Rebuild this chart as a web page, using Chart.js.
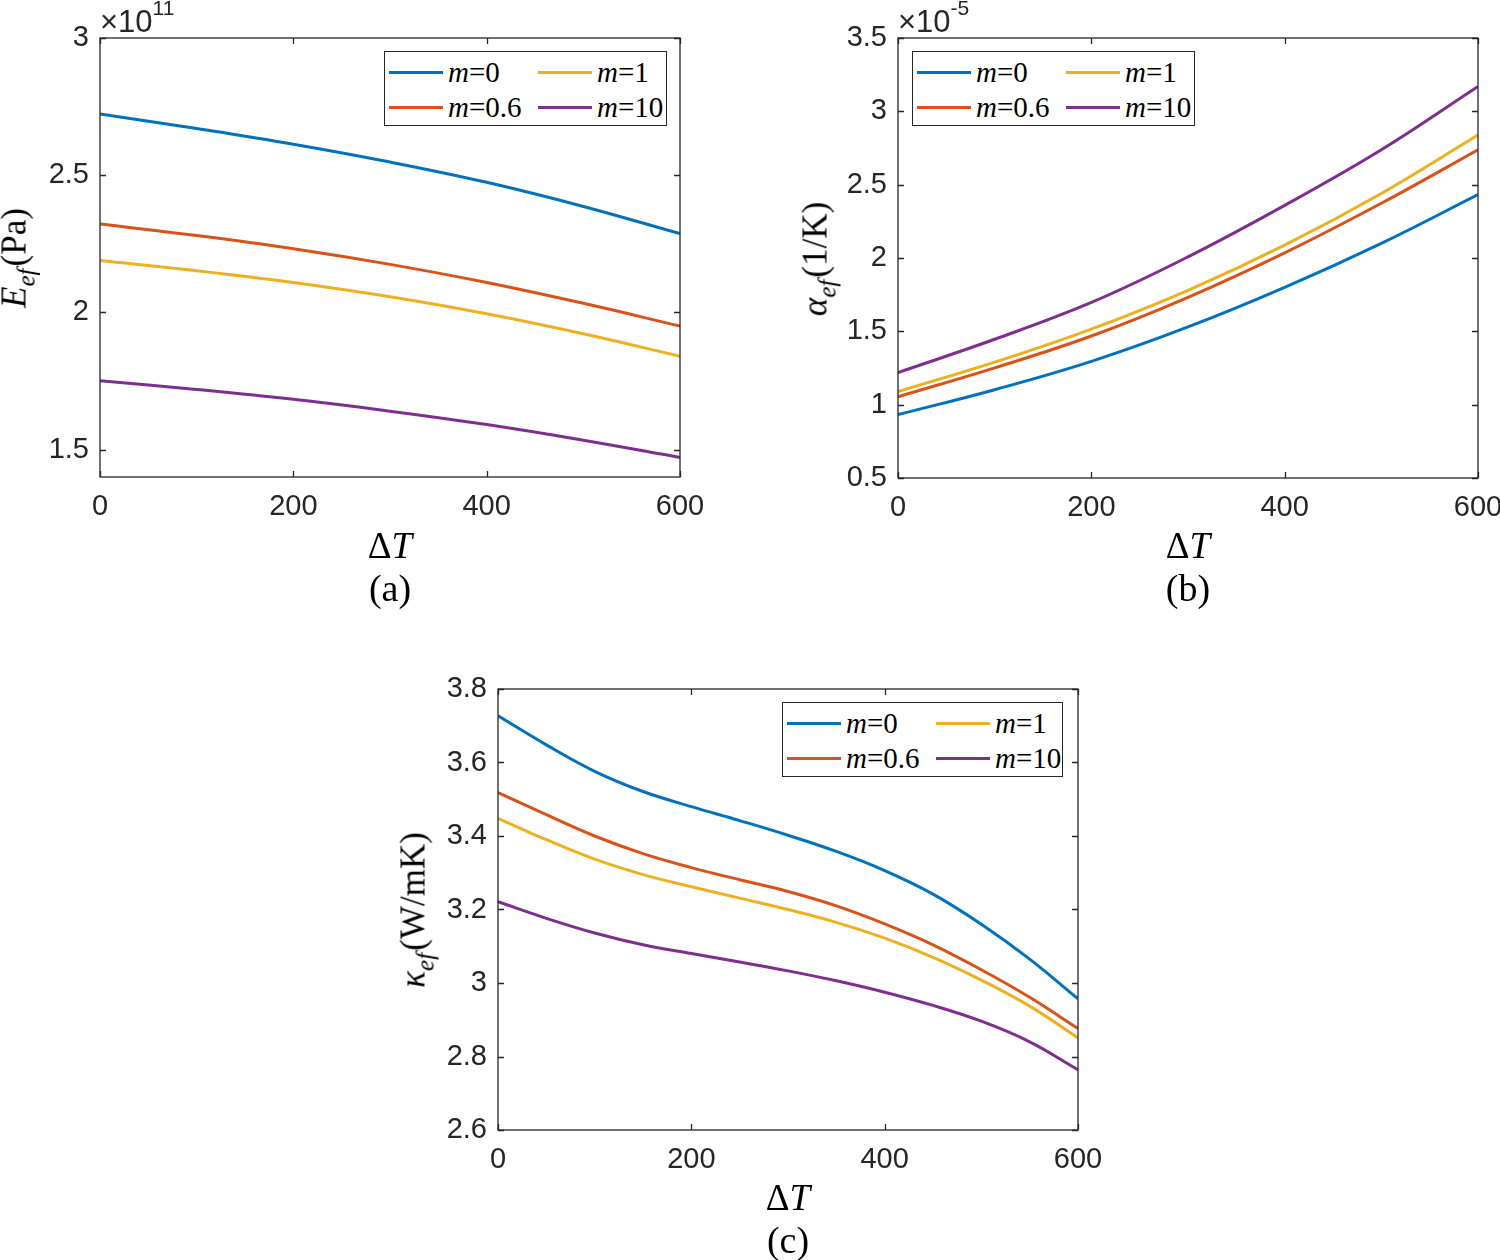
<!DOCTYPE html>
<html>
<head>
<meta charset="utf-8">
<script src="https://cdn.jsdelivr.net/npm/chart.js@4.4.1/dist/chart.umd.min.js"></script>
<style>
  body { margin: 0; background: #fff; }
  #fig { position: relative; width: 1500px; height: 1260px; overflow: hidden; font-family: "Liberation Serif", serif; color: #000; }
  canvas { position: absolute; }
  .lbl { position: absolute; white-space: nowrap; font-size: 37px; line-height: 1; transform: translate(-50%, -50%); }
  .cap { font-size: 38px; }
  .ylbl { font-size: 35px; transform: translate(-50%, -50%) rotate(-90deg); }
  .sub { font-size: 0.72em; position: relative; top: 0.34em; font-style: italic; margin-right: 2px; }
  .expo { position: absolute; font-family: "Liberation Sans", sans-serif; font-size: 31px; line-height: 1; color: #262626; white-space: nowrap; }
  .expo span { font-size: 21px; position: relative; top: -17px; }
  .legend { position: absolute; border: 1.5px solid #262626; background: #fff; box-sizing: border-box; }
  .legend .it { position: absolute; height: 34px; display: flex; align-items: center; font-size: 29px; white-space: nowrap; }
  .legend .sw { display: inline-block; width: 54px; height: 3px; margin-right: 5px; }
</style>
</head>
<body>
<div id="fig">
  <canvas id="chartA" width="740" height="530" style="left:0;top:0"></canvas>
  <canvas id="chartB" width="710" height="531" style="left:790px;top:0"></canvas>
  <canvas id="chartC" width="740" height="533" style="left:390px;top:650px"></canvas>
</div>
<script>
// temperature rise values on the x axis
const dTCoarse = [0, 100, 200, 300, 400, 500, 600];
const dTFine = [0, 50, 100, 150, 200, 250, 300, 350, 400, 450, 500, 550, 600];
const xTicks = [0, 200, 400, 600];

const mValues = ["0", "0.6", "1", "10"];
const colors = ["#0072BD", "#D95319", "#EDB120", "#7E2F8E"];

// (a) E_ef in units of 1e11 Pa
const E_m0 = [2.723, 2.670, 2.613, 2.548, 2.474, 2.386, 2.287];
const E_m06 = [2.322, 2.280, 2.232, 2.175, 2.109, 2.033, 1.950];
const E_m1 = [2.189, 2.152, 2.109, 2.057, 1.995, 1.922, 1.840];
const E_m10 = [1.751, 1.719, 1.683, 1.640, 1.591, 1.534, 1.471];
const yTicksA = [1.5, 2, 2.5, 3];

// (b) alpha_ef in units of 1e-5 1/K
const a_m0 = [0.932, 1.102, 1.295, 1.530, 1.800, 2.100, 2.432];
const a_m06 = [1.054, 1.251, 1.468, 1.732, 2.035, 2.373, 2.738];
const a_m1 = [1.089, 1.290, 1.515, 1.780, 2.088, 2.440, 2.838];
const a_m10 = [1.219, 1.446, 1.697, 2.008, 2.359, 2.738, 3.170];
const yTicksB = [0.5, 1, 1.5, 2, 2.5, 3, 3.5];

// (c) kappa_ef in W/mK
const k_m0 = [3.727, 3.648, 3.576, 3.521, 3.480, 3.442, 3.402, 3.358, 3.306, 3.242, 3.160, 3.065, 2.957];
const k_m06 = [3.518, 3.458, 3.400, 3.352, 3.314, 3.281, 3.249, 3.210, 3.161, 3.104, 3.036, 2.961, 2.876];
const k_m1 = [3.448, 3.390, 3.337, 3.295, 3.262, 3.231, 3.200, 3.165, 3.122, 3.070, 3.008, 2.937, 2.851];
const k_m10 = [3.221, 3.176, 3.136, 3.104, 3.080, 3.057, 3.033, 3.006, 2.975, 2.939, 2.896, 2.840, 2.764];
const yTicksC = [2.6, 2.8, 3, 3.2, 3.4, 3.6, 3.8];

Chart.defaults.font.family = "Liberation Sans";

// matlab style box with inward ticks on all four sides
const boxTicks = {
  id: "boxTicks",
  afterDatasetsDraw(chart) {
    const { ctx, chartArea: a, scales: { x, y } } = chart;
    ctx.save();
    ctx.strokeStyle = "#262626";
    ctx.lineWidth = 1.3;
    ctx.beginPath();
    x.ticks.forEach(t => {
      const px = Math.round(x.getPixelForValue(t.value)) + 0.5;
      ctx.moveTo(px, a.bottom); ctx.lineTo(px, a.bottom - 6);
      ctx.moveTo(px, a.top); ctx.lineTo(px, a.top + 6);
    });
    y.ticks.forEach(t => {
      const py = Math.round(y.getPixelForValue(t.value)) + 0.5;
      ctx.moveTo(a.left, py); ctx.lineTo(a.left + 6, py);
      ctx.moveTo(a.right, py); ctx.lineTo(a.right - 6, py);
    });
    ctx.stroke();
    ctx.strokeRect(a.left, a.top, a.right - a.left, a.bottom - a.top);
    ctx.restore();
  }
};

function makeChart(id, xs, series, yMin, yMax, yTicks, pad, yWidth) {
  new Chart(document.getElementById(id), {
    type: "line",
    data: {
      datasets: series.map((arr, i) => ({
        label: "m=" + mValues[i],
        data: arr.map((v, j) => ({ x: xs[j], y: v })),
        borderColor: colors[i],
        borderWidth: 3,
        pointRadius: 0,
        tension: 0.4,
        fill: false
      }))
    },
    options: {
      responsive: false,
      animation: false,
      layout: { padding: { top: pad.top, right: pad.right, left: 0, bottom: 0 } },
      plugins: { legend: { display: false }, tooltip: { enabled: false } },
      scales: {
        x: {
          type: "linear", min: 0, max: 600,
          afterBuildTicks: s => { s.ticks = xTicks.map(v => ({ value: v })); },
          afterFit: s => { s.height = 53; s.paddingLeft = 0; s.paddingRight = 0; },
          grid: { display: false },
          border: { display: false },
          ticks: { font: { size: 29 }, color: "#262626", padding: 5, maxRotation: 0, autoSkip: false }
        },
        y: {
          min: yMin, max: yMax,
          afterBuildTicks: s => { s.ticks = yTicks.map(v => ({ value: v })); },
          afterFit: s => { s.width = yWidth; s.paddingTop = 0; s.paddingBottom = 0; },
          grid: { display: false },
          border: { display: false },
          ticks: { font: { size: 29 }, color: "#262626", padding: 3, callback: v => String(+v.toFixed(2)) }
        }
      }
    },
    plugins: [boxTicks]
  });
}

makeChart("chartA", dTCoarse, [E_m0, E_m06, E_m1, E_m10], 1.4, 3, yTicksA, { top: 38, right: 60 }, 100);
makeChart("chartB", dTCoarse, [a_m0, a_m06, a_m1, a_m10], 0.5, 3.5, yTicksB, { top: 38, right: 22 }, 108);
makeChart("chartC", dTFine, [k_m0, k_m06, k_m1, k_m10], 2.6, 3.8, yTicksC, { top: 39, right: 52 }, 108);

const fig = document.getElementById("fig");

function addLabel(html, cx, cy, cls) {
  const d = document.createElement("div");
  d.className = "lbl" + (cls ? " " + cls : "");
  d.innerHTML = html;
  d.style.left = cx + "px";
  d.style.top = cy + "px";
  fig.appendChild(d);
}

function addExpo(base, power, left, top) {
  const d = document.createElement("div");
  d.className = "expo";
  d.innerHTML = base + "<span>" + power + "</span>";
  d.style.left = left + "px";
  d.style.top = top + "px";
  fig.appendChild(d);
}

// two columns, filled column by column like matlab
function addLegend(left, top, width) {
  const box = document.createElement("div");
  box.className = "legend";
  box.style.left = left + "px";
  box.style.top = top + "px";
  box.style.width = width + "px";
  box.style.height = "75px";
  mValues.forEach((m, i) => {
    const col = Math.floor(i / 2), row = i % 2;
    const it = document.createElement("div");
    it.className = "it";
    it.style.left = (4 + col * 149) + "px";
    it.style.top = (3 + row * 35) + "px";
    it.innerHTML = `<span class="sw" style="background:${colors[i]}"></span><i>m</i>=${m}`;
    box.appendChild(it);
  });
  fig.appendChild(box);
}

addExpo("\u00d710", "11", 100, 6);
addExpo("\u00d710", "-5", 898, 6);

addLegend(384, 51, 283);
addLegend(912, 51, 283);
addLegend(782, 702, 281);

addLabel('<i>E</i><span class="sub">ef</span>(Pa)', 14, 258, "ylbl");
addLabel('<i>\u03b1</i><span class="sub">ef</span>(1/K)', 815, 259, "ylbl");
addLabel('<i>\u03ba</i><span class="sub">ef</span>(W/mK)', 413, 910, "ylbl");

addLabel('\u0394<i>T</i>', 390, 545);
addLabel('\u0394<i>T</i>', 1188, 545);
addLabel('\u0394<i>T</i>', 788, 1197);

addLabel('(a)', 390, 588, "cap");
addLabel('(b)', 1188, 588, "cap");
addLabel('(c)', 788, 1240, "cap");
</script>
</body>
</html>
